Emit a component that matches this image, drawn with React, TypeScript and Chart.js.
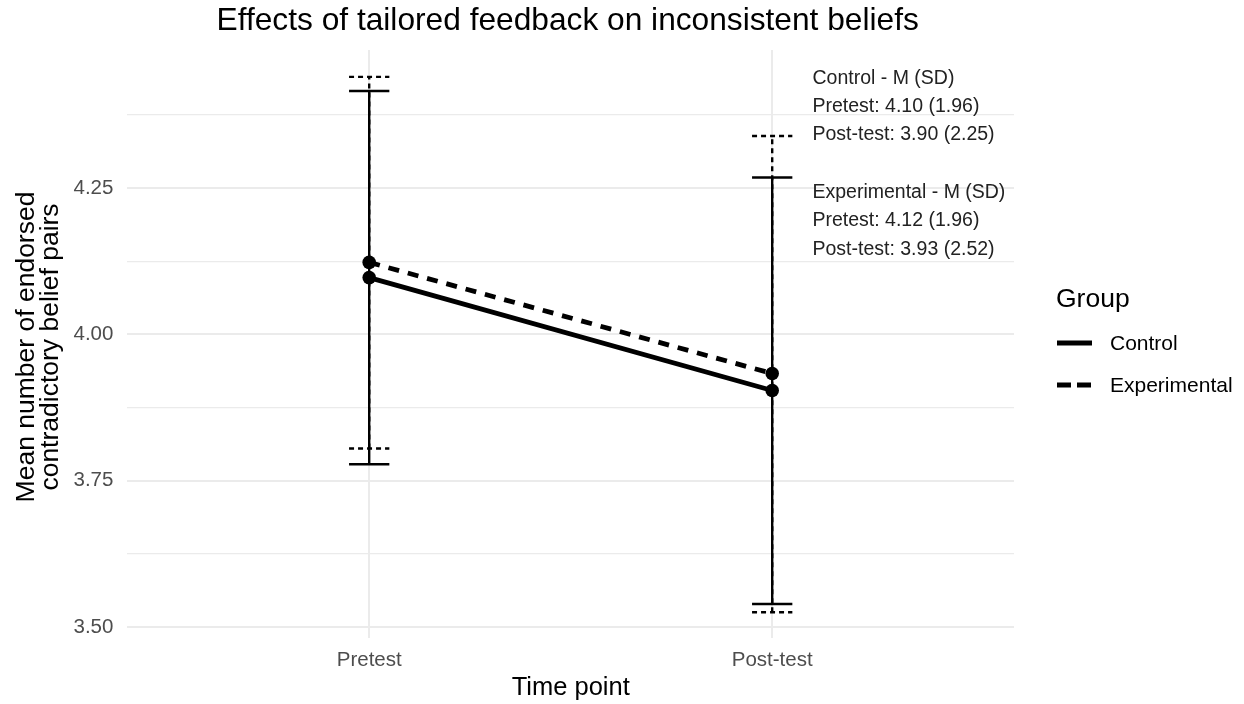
import React, { useEffect, useRef } from 'react';
import { Chart, registerables } from 'chart.js';

Chart.register(...registerables);

// ---------- data ----------
const categories = ['Pretest', 'Post-test'];
const categoryPositions = [1, 2];
const groups = ['Control', 'Experimental'];
const controlMeans = [4.097, 3.904];
const experimentalMeans = [4.123, 3.933];
const controlLower = [3.778, 3.539];
const controlUpper = [4.416, 4.268];
const experimentalLower = [3.805, 3.525];
const experimentalUpper = [4.44, 4.339];
const yTickValues = [3.5, 3.625, 3.75, 3.875, 4.0, 4.125, 4.25, 4.375];
const controlNotes = ['Control - M (SD)', 'Pretest: 4.10 (1.96)', 'Post-test: 3.90 (2.25)'];
const experimentalNotes = ['Experimental - M (SD)', 'Pretest: 4.12 (1.96)', 'Post-test: 3.93 (2.52)'];
const noteX = 2.1;
const noteY = [4.395, 4.2];

const titleText = 'Effects of tailored feedback on inconsistent beliefs';
const xTitle = 'Time point';
const yTitle = ['Mean number of endorsed', 'contradictory belief pairs'];
const legendTitle = 'Group';

const FONT = "'Liberation Sans', Arial, Helvetica, sans-serif";

const isMajor = (v: number) => Math.abs(v / 0.25 - Math.round(v / 0.25)) < 1e-6;

const decorPlugin = {
  id: 'decor',
  beforeDatasetsDraw(chart: any) {
    const { ctx, scales } = chart;
    const x = scales.x;
    const y = scales.y;
    const drawBars = (lower: number[], upper: number[], dash: number[]) => {
      ctx.save();
      ctx.strokeStyle = '#000';
      ctx.lineWidth = 2.4;
      ctx.setLineDash(dash);
      ctx.lineCap = 'butt';
      categoryPositions.forEach((pos, i) => {
        const px = x.getPixelForValue(pos);
        const hw = x.getPixelForValue(pos + 0.05) - px;
        const yl = y.getPixelForValue(lower[i]);
        const yu = y.getPixelForValue(upper[i]);
        ctx.beginPath();
        ctx.moveTo(px, yl);
        ctx.lineTo(px, yu);
        ctx.stroke();
        ctx.beginPath();
        ctx.moveTo(px - hw, yu);
        ctx.lineTo(px + hw, yu);
        ctx.stroke();
        ctx.beginPath();
        ctx.moveTo(px - hw, yl);
        ctx.lineTo(px + hw, yl);
        ctx.stroke();
      });
      ctx.restore();
    };
    drawBars(controlLower, controlUpper, []);
    drawBars(experimentalLower, experimentalUpper, [5, 4]);
  },
  afterDraw(chart: any) {
    const { ctx, chartArea, scales } = chart;
    const x = scales.x;
    const y = scales.y;
    const cx = (chartArea.left + chartArea.right) / 2;
    const cy = (chartArea.top + chartArea.bottom) / 2;
    ctx.save();
    // title
    ctx.fillStyle = '#000';
    ctx.textAlign = 'center';
    ctx.textBaseline = 'alphabetic';
    ctx.font = `31.7px ${FONT}`;
    ctx.fillText(titleText, cx - 3, 30);
    // x title
    ctx.font = `25.5px ${FONT}`;
    ctx.fillText(xTitle, cx, 695);
    // y title
    ctx.font = `26.5px ${FONT}`;
    const yBase = [34, 57.5];
    yTitle.forEach((line, i) => {
      ctx.save();
      ctx.translate(yBase[i], cy + 3);
      ctx.rotate(-Math.PI / 2);
      ctx.fillText(line, 0, 0);
      ctx.restore();
    });
    // notes
    ctx.font = `19.5px ${FONT}`;
    ctx.fillStyle = '#222';
    ctx.textAlign = 'left';
    [controlNotes, experimentalNotes].forEach((lines, b) => {
      const px = x.getPixelForValue(noteX);
      const mid = y.getPixelForValue(noteY[b]) + 9;
      lines.forEach((line, i) => {
        ctx.fillText(line, px, mid + (i - 1) * 28.2);
      });
    });
    // legend
    ctx.fillStyle = '#000';
    ctx.font = `26.5px ${FONT}`;
    ctx.fillText(legendTitle, 1056, 307);
    ctx.font = `21px ${FONT}`;
    ctx.textBaseline = 'middle';
    const keyY = [343, 385];
    groups.forEach((g, i) => {
      ctx.save();
      ctx.strokeStyle = '#000';
      ctx.lineWidth = 4.8;
      ctx.lineCap = 'butt';
      ctx.setLineDash(i === 0 ? [] : [14, 6]);
      ctx.beginPath();
      ctx.moveTo(1057, keyY[i]);
      ctx.lineTo(1092, keyY[i]);
      ctx.stroke();
      ctx.restore();
      ctx.fillText(g, 1110, keyY[i] + 1);
    });
    ctx.restore();
  },
};

export default function App() {
  const canvasRef = useRef<HTMLCanvasElement | null>(null);

  useEffect(() => {
    document.body.style.margin = '0';
    const canvas = canvasRef.current;
    if (!canvas) return;
    const chart = new Chart(canvas, {
      type: 'line',
      data: {
        datasets: [
          {
            label: groups[0],
            data: categoryPositions.map((p, i) => ({ x: p, y: controlMeans[i] })),
            borderColor: '#000',
            backgroundColor: '#000',
            borderWidth: 4.8,
            pointRadius: 6.8,
            pointBorderWidth: 0,
            pointBackgroundColor: '#000',
          },
          {
            label: groups[1],
            data: categoryPositions.map((p, i) => ({ x: p, y: experimentalMeans[i] })),
            borderColor: '#000',
            backgroundColor: '#000',
            borderWidth: 4.8,
            borderDash: [11, 9],
            pointRadius: 6.8,
            pointBorderWidth: 0,
            pointBackgroundColor: '#000',
          },
        ],
      },
      options: {
        responsive: false,
        animation: false,
        devicePixelRatio: 1,
        layout: { padding: { top: 50, right: 230, left: 0, bottom: 0 } },
        plugins: {
          legend: { display: false },
          tooltip: { enabled: false },
          title: { display: false },
        },
        scales: {
          x: {
            type: 'linear',
            min: 0.4,
            max: 2.6,
            afterBuildTicks: (scale: any) => {
              scale.ticks = categoryPositions.map((v) => ({ value: v }));
            },
            afterFit: (scale: any) => {
              scale.height = 66;
            },
            ticks: {
              callback: (value: any) => {
                const i = categoryPositions.indexOf(Number(value));
                return i >= 0 ? categories[i] : '';
              },
              font: { family: FONT, size: 20.5 },
              color: '#4D4D4D',
              padding: 10,
              maxRotation: 0,
              autoSkip: false,
            },
            grid: { color: '#EBEBEB', lineWidth: 2, drawTicks: false },
            border: { display: false },
          },
          y: {
            type: 'linear',
            min: 3.481,
            max: 4.486,
            afterBuildTicks: (scale: any) => {
              scale.ticks = yTickValues.map((v) => ({ value: v }));
            },
            afterFit: (scale: any) => {
              scale.width = 127.4;
            },
            ticks: {
              callback: (value: any) => (isMajor(Number(value)) ? Number(value).toFixed(2) : ''),
              font: { family: FONT, size: 20.5 },
              color: '#4D4D4D',
              padding: 14,
              autoSkip: false,
            },
            grid: {
              color: '#EBEBEB',
              lineWidth: (c: any) => (c.tick && isMajor(c.tick.value) ? 2 : 1.2),
              drawTicks: false,
            },
            border: { display: false },
          },
        },
      },
      plugins: [decorPlugin],
    } as any);
    return () => chart.destroy();
  }, []);

  return (
    <div style={{ width: 1244, height: 704 }}>
      <canvas ref={canvasRef} width={1244} height={704} style={{ width: 1244, height: 704, display: 'block' }} />
    </div>
  );
}
